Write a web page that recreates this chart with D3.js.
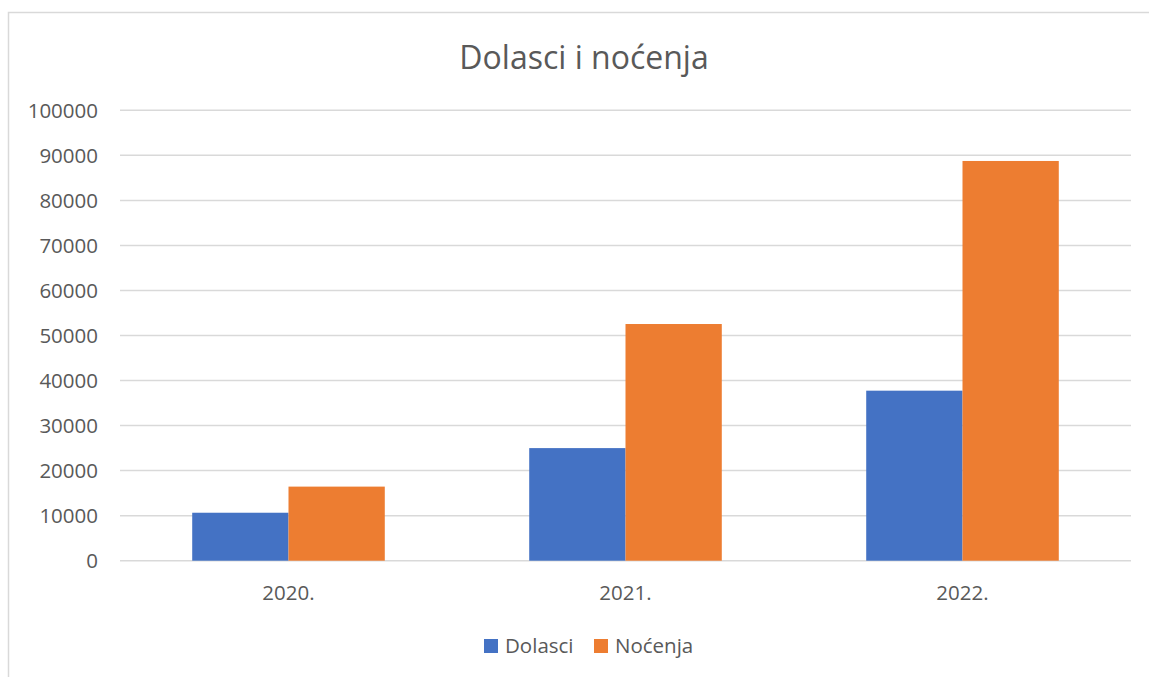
<!DOCTYPE html>
<html><head><meta charset="utf-8">
<script src="https://cdn.jsdelivr.net/npm/d3@7"></script>
<style>html,body{margin:0;padding:0;background:#fff;}svg{display:block;}</style>
</head><body>
<svg id="c" width="1149" height="677"></svg>
<script>
const categories = ["2020.", "2021.", "2022."];
const seriesNames = ["Dolasci", "Noćenja"];
const dolasci = [10650, 25000, 37750];
const nocenja = [16450, 52550, 88750];
const yTicks = [0, 10000, 20000, 30000, 40000, 50000, 60000, 70000, 80000, 90000, 100000];
const colors = ["#4472C4", "#ED7D31"];
const title = "Dolasci i noćenja";

const svg = d3.select("#c");
const font = "'Open Sans', sans-serif";
const textColor = "#595959";
const m = {left: 120, right: 1131, top: 110.3, bottom: 560.7};

svg.append("rect").attr("x", 8.5).attr("y", 12.5).attr("width", 1200).attr("height", 700)
  .attr("fill", "#fff").attr("stroke", "#d9d9d9").attr("stroke-width", 1.5);

const x = d3.scaleBand().domain(categories).range([m.left, m.right]).paddingInner(0).paddingOuter(0);
const y = d3.scaleLinear().domain([0, 100000]).range([m.bottom, m.top]);

// gridlines
svg.append("g").selectAll("line").data(yTicks).join("line")
  .attr("x1", m.left).attr("x2", m.right)
  .attr("y1", d => y(d)).attr("y2", d => y(d))
  .attr("stroke", "#d9d9d9").attr("stroke-width", 1.5);

// y axis labels
const yAxis = d3.axisLeft(y).tickValues(yTicks).tickSize(0).tickPadding(0).tickFormat(d3.format("d"));
const ya = svg.append("g").attr("transform", `translate(98,0)`).call(yAxis);
ya.select(".domain").remove();
ya.selectAll("text").attr("font-family", font).attr("font-size", 20.5).attr("fill", textColor).attr("dy", "0.35em");

// bars
const bw = x.bandwidth() / 3.5;
const data = [dolasci, nocenja];
data.forEach((vals, si) => {
  svg.append("g").selectAll("rect").data(vals).join("rect")
    .attr("x", (d, i) => x(categories[i]) + x.bandwidth() / 2 - bw + si * bw)
    .attr("y", d => y(d))
    .attr("width", bw)
    .attr("height", d => y(0) - y(d))
    .attr("fill", colors[si]);
});

// x axis labels
const xAxis = d3.axisBottom(x).tickSize(0).tickPadding(0);
const xa = svg.append("g").attr("transform", `translate(0,600)`).call(xAxis);
xa.select(".domain").remove();
xa.selectAll("text").attr("font-family", font).attr("font-size", 20.5).attr("fill", textColor).attr("dy", 0).attr("y", 0);

// title
svg.append("text").attr("x", 584).attr("y", 69).attr("text-anchor", "middle")
  .attr("font-family", font).attr("font-size", 32).attr("fill", textColor).text(title);

// legend
const leg = svg.append("g");
const legX = [484, 594];
seriesNames.forEach((n, i) => {
  leg.append("rect").attr("x", legX[i]).attr("y", 639).attr("width", 14).attr("height", 14).attr("fill", colors[i]);
  leg.append("text").attr("x", legX[i] + 21).attr("y", 653).attr("font-family", font).attr("font-size", 20.5)
    .attr("fill", textColor).text(n);
});
</script>
</body></html>
